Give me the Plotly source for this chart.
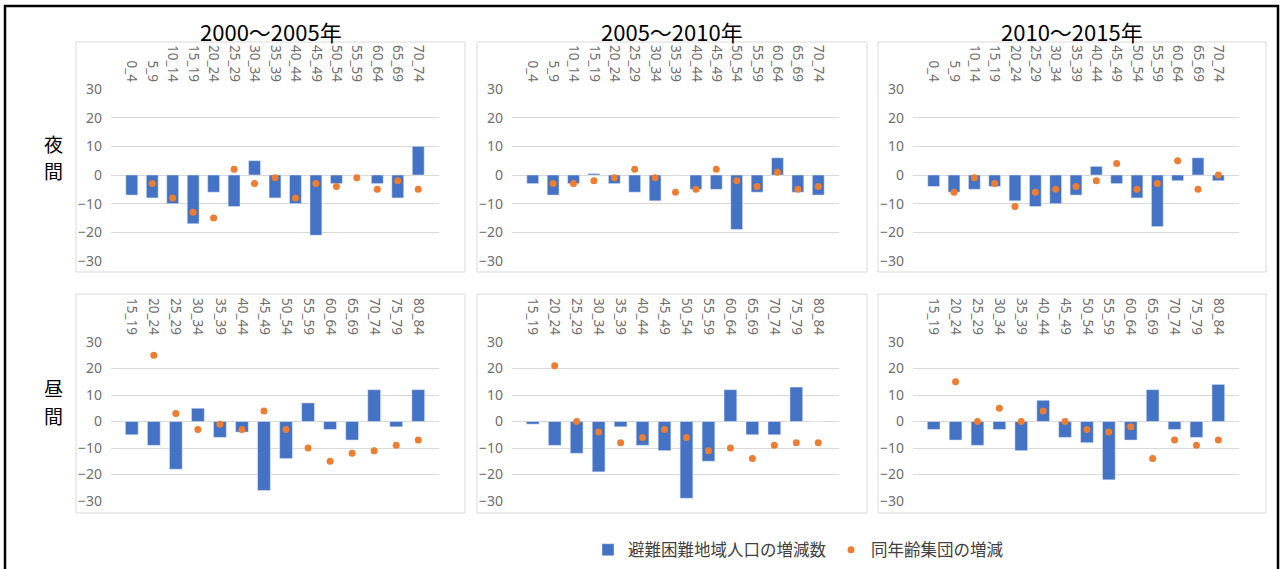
import plotly.graph_objects as go

W, H = 1285, 569

periods = ["2000～2005年", "2005～2010年", "2010～2015年"]
row_labels = [["夜", "間"], ["昼", "間"]]
series_names = ["避難困難地域人口の増減数", "同年齢集団の増減"]

night_ages = ["0_4", "5_9", "10_14", "15_19", "20_24", "25_29", "30_34", "35_39",
              "40_44", "45_49", "50_54", "55_59", "60_64", "65_69", "70_74"]
day_ages = ["15_19", "20_24", "25_29", "30_34", "35_39", "40_44", "45_49",
            "50_54", "55_59", "60_64", "65_69", "70_74", "75_79", "80_84"]

# 夜間 (night)
night_area_2000_2005 = [-7, -8, -10, -17, -6, -11, 5, -8, -10, -21, -3, 0, -3, -8, 10]
night_cohort_2000_2005 = [None, -3, -8, -13, -15, 2, -3, -1, -8, -3, -4, -1, -5, -2, -5]
night_area_2005_2010 = [-3, -7, -3, 0.5, -3, -6, -9, 0, -5, -5, -19, -6, 6, -6, -7]
night_cohort_2005_2010 = [None, -3, -3, -2, -1, 2, -1, -6, -5, 2, -2, -4, 1, -5, -4]
night_area_2010_2015 = [-4, -6, -5, -4, -9, -11, -10, -7, 3, -3, -8, -18, -2, 6, -2]
night_cohort_2010_2015 = [None, -6, -1, -3, -11, -6, -5, -4, -2, 4, -5, -3, 5, -5, 0]

# 昼間 (day)
day_area_2000_2005 = [-5, -9, -18, 5, -6, -4, -26, -14, 7, -3, -7, 12, -2, 12]
day_cohort_2000_2005 = [None, 25, 3, -3, -1, -3, 4, -3, -10, -15, -12, -11, -9, -7]
day_area_2005_2010 = [-1, -9, -12, -19, -2, -9, -11, -29, -15, 12, -5, -5, 13, 0]
day_cohort_2005_2010 = [None, 21, 0, -4, -8, -6, -3, -6, -11, -10, -14, -9, -8, -8]
day_area_2010_2015 = [-3, -7, -9, -3, -11, 8, -6, -8, -22, -7, 12, -3, -6, 14]
day_cohort_2010_2015 = [None, 15, 0, 5, 0, 4, 0, -3, -4, -2, -14, -7, -9, -7]

panels = [
    (night_ages, night_area_2000_2005, night_cohort_2000_2005),
    (night_ages, night_area_2005_2010, night_cohort_2005_2010),
    (night_ages, night_area_2010_2015, night_cohort_2010_2015),
    (day_ages, day_area_2000_2005, day_cohort_2000_2005),
    (day_ages, day_area_2005_2010, day_cohort_2005_2010),
    (day_ages, day_area_2010_2015, day_cohort_2010_2015),
]

BLUE = "#4472C4"
ORANGE = "#ED7D31"
GRID = "#D9D9D9"
TICK = "#6E6E6E"
JP = "Noto Sans CJK JP"


def fx(px):
    return px / W


def fy(py):
    return 1 - py / H


col_plot_px = [(111, 439), (512, 839), (913, 1239)]
row_plot_px = [(89, 261), (342, 501)]
col_box_px = [(76, 465), (477, 867), (878, 1266)]
row_box_px = [(42, 272), (294, 513)]

fig = go.Figure()
layout = {}
for i, (ages, area, cohort) in enumerate(panels):
    r, c = divmod(i, 3)
    n = i + 1
    xa = "x" if n == 1 else f"x{n}"
    ya = "y" if n == 1 else f"y{n}"
    fig.add_trace(go.Bar(x=ages, y=area, xaxis=xa, yaxis=ya, marker_color=BLUE,
                         name=series_names[0], showlegend=(i == 0), legendgroup="a"))
    fig.add_trace(go.Scatter(x=ages, y=cohort, xaxis=xa, yaxis=ya, mode="markers",
                             marker=dict(color=ORANGE, size=7), name=series_names[1],
                             showlegend=(i == 0), legendgroup="b"))
    x0, x1 = col_plot_px[c]
    y0, y1 = row_plot_px[r]
    kx = "xaxis" if n == 1 else f"xaxis{n}"
    ky = "yaxis" if n == 1 else f"yaxis{n}"
    layout[kx] = dict(domain=[fx(x0), fx(x1)], anchor=ya, type="category", side="top",
                      tickangle=90, showgrid=False, showline=False, ticks="",
                      automargin=False, ticklabelstandoff=4,
                      tickfont=dict(family="Noto Sans", size=13.5, color=TICK),
                      fixedrange=True)
    layout[ky] = dict(domain=[fy(y1), fy(y0)], anchor=xa, range=[-30, 30],
                      tickvals=[-30, -20, -10, 0, 10, 20, 30],
                      showgrid=True, gridcolor=GRID, gridwidth=1,
                      zeroline=True, zerolinecolor=GRID, zerolinewidth=1,
                      showline=False, ticks="", ticklabelstandoff=8, automargin=False,
                      tickfont=dict(family="Noto Sans", size=14, color=TICK),
                      fixedrange=True)

shapes = []
for (bx0, bx1) in col_box_px:
    for (by0, by1) in row_box_px:
        shapes.append(dict(type="rect", xref="paper", yref="paper",
                           x0=fx(bx0), x1=fx(bx1), y0=fy(by1), y1=fy(by0),
                           line=dict(color=GRID, width=1), fillcolor="rgba(0,0,0,0)",
                           layer="below"))
shapes.append(dict(type="rect", xref="paper", yref="paper",
                   x0=fx(5), x1=fx(1278), y0=fy(600), y1=fy(6),
                   line=dict(color="black", width=2.5), fillcolor="rgba(0,0,0,0)"))

annotations = []
for c, title in enumerate(periods):
    bx0, bx1 = col_box_px[c]
    annotations.append(dict(text=title, xref="paper", yref="paper",
                            x=fx((bx0 + bx1) / 2), y=fy(31), showarrow=False,
                            xanchor="center", yanchor="middle",
                            font=dict(family=JP, size=22, color="black")))
for r, chars in enumerate(row_labels):
    cy = [157, 401][r]
    for k, ch in enumerate(chars):
        annotations.append(dict(text=ch, xref="paper", yref="paper",
                                x=fx(53), y=fy(cy + (k - 0.5) * 28), showarrow=False,
                                xanchor="center", yanchor="middle",
                                font=dict(family=JP, size=19, color="black")))

fig.update_layout(
    width=W, height=H, margin=dict(l=0, r=0, t=0, b=0, pad=0, autoexpand=False),
    paper_bgcolor="white", plot_bgcolor="white",
    bargap=0.42, barmode="overlay",
    shapes=shapes, annotations=annotations,
    legend=dict(orientation="h", x=fx(588), y=fy(550), xanchor="left", yanchor="middle",
                font=dict(family=JP, size=16.5, color="#404040"),
                bgcolor="rgba(0,0,0,0)"),
    **layout,
)

fig.write_html("out.html")
